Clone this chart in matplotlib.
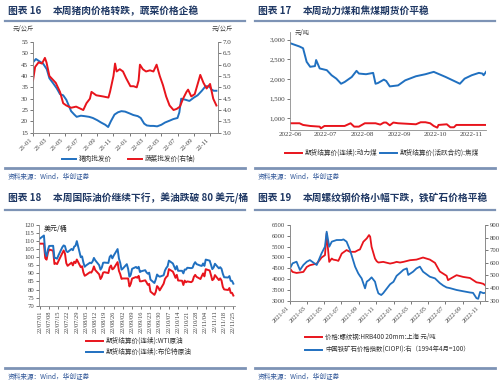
# Four small weekly price panels (pork/veg, coal, crude oil, rebar/iron ore)
import matplotlib
matplotlib.use('Agg')
import matplotlib.pyplot as plt
import matplotlib.dates as mdates
from matplotlib.lines import Line2D
from matplotlib.ticker import MultipleLocator, FuncFormatter
import pandas as pd

plt.rcParams['font.family'] = ['Noto Sans CJK SC', 'DejaVu Sans']
plt.rcParams['axes.unicode_minus'] = False

# ---------------- data ----------------
# panel 16: pork wholesale (left, yuan/kg), vegetable wholesale (right, yuan/kg)
pork_dates = ['2021-01-01', '2021-01-12', '2021-01-25', '2021-02-08', '2021-02-22',
              '2021-03-04', '2021-03-20', '2021-04-01', '2021-04-13', '2021-04-25',
              '2021-05-07', '2021-05-16', '2021-05-25', '2021-06-06', '2021-06-15',
              '2021-07-01', '2021-07-15', '2021-08-01', '2021-08-15', '2021-09-01',
              '2021-09-15', '2021-10-01', '2021-10-12', '2021-10-22', '2021-11-05',
              '2021-11-18', '2021-12-01', '2021-12-15', '2022-01-01', '2022-01-15',
              '2022-02-01', '2022-02-12', '2022-02-25', '2022-03-07', '2022-03-20',
              '2022-04-01', '2022-04-15', '2022-05-01', '2022-05-15', '2022-06-01',
              '2022-06-15', '2022-07-01', '2022-07-08', '2022-07-15', '2022-08-01',
              '2022-08-15', '2022-09-01', '2022-09-15', '2022-10-01', '2022-10-15',
              '2022-10-28', '2022-11-07', '2022-11-15', '2022-11-25']
pork_price = [46, 47.5, 46.5, 45.5, 43, 39, 36.5, 34.5, 32, 31.5,
              29.5, 27, 24.5, 23, 22, 22.5, 22.3, 22, 21.5, 20.5,
              19.5, 18.5, 17.5, 20, 23, 24, 24.5, 24.3, 23.5, 22.8,
              22.3, 21.5, 19, 18.2, 18, 18, 17.8, 18.5, 19.5, 20.3,
              21, 21.5, 24, 30, 29.5, 29, 30.5, 31.5, 33.5, 35.5,
              35.5, 34, 33.5, 33.5]
veg_dates = ['2021-01-01', '2021-01-09', '2021-01-22', '2021-02-04', '2021-02-15',
             '2021-02-21', '2021-03-04', '2021-03-16', '2021-03-28', '2021-04-13',
             '2021-04-25', '2021-05-07', '2021-05-25', '2021-06-13', '2021-07-10',
             '2021-07-22', '2021-08-04', '2021-08-10', '2021-08-28', '2021-09-22',
             '2021-10-13', '2021-10-19', '2021-11-01', '2021-11-07', '2021-11-13',
             '2021-11-25', '2021-12-07', '2021-12-19', '2022-01-04', '2022-01-16',
             '2022-01-28', '2022-02-04', '2022-02-09', '2022-02-20', '2022-03-04',
             '2022-03-19', '2022-04-01', '2022-04-13', '2022-04-25', '2022-05-07',
             '2022-05-19', '2022-06-01', '2022-06-16', '2022-06-28', '2022-07-10',
             '2022-07-22', '2022-08-04', '2022-08-10', '2022-08-22', '2022-09-04',
             '2022-09-19', '2022-09-25', '2022-10-07', '2022-10-19', '2022-11-01',
             '2022-11-13', '2022-11-25']
veg_price = [5.30, 5.90, 6.10, 6.05, 6.30, 6.10, 5.50, 5.35, 5.20, 4.80,
             4.30, 4.20, 4.10, 4.15, 4.00, 4.30, 4.50, 4.80, 4.65, 4.60,
             4.55, 4.80, 5.50, 6.05, 5.70, 5.80, 5.70, 5.40, 5.05, 5.05,
             5.00, 5.30, 6.00, 5.80, 5.70, 5.75, 5.70, 6.00, 5.50, 5.10,
             4.60, 4.20, 4.00, 4.05, 4.15, 4.50, 4.80, 4.90, 4.60, 4.70,
             5.30, 5.55, 5.20, 4.95, 5.15, 4.50, 4.20]

# panel 17: thermal coal and coking coal futures, yuan/ton
coking_dates = ['2022-06-01', '2022-06-09', '2022-06-12', '2022-06-15', '2022-06-18',
                '2022-06-22', '2022-06-23', '2022-06-26', '2022-07-02', '2022-07-06',
                '2022-07-10', '2022-07-14', '2022-07-17', '2022-07-23', '2022-07-27',
                '2022-07-29', '2022-08-04', '2022-08-10', '2022-08-12', '2022-08-14',
                '2022-08-19', '2022-08-21', '2022-08-24', '2022-08-31', '2022-09-06',
                '2022-09-15', '2022-09-23', '2022-09-30', '2022-10-10', '2022-10-19',
                '2022-10-22', '2022-10-26', '2022-11-01', '2022-11-07', '2022-11-10',
                '2022-11-11', '2022-11-13']
coking_price = [2916, 2830, 2786, 2440, 2312, 2330, 2485, 2270, 2226, 2097,
                2010, 1880, 1925, 2053, 2209, 2140, 2123, 2157, 1880, 1898,
                1985, 1950, 1812, 1838, 1967, 2071, 2123, 2183, 2053, 1924,
                1880, 2010, 2097, 2157, 2140, 2097, 2183]
thermal_dates = ['2022-06-01', '2022-06-09', '2022-06-12', '2022-06-18', '2022-06-26',
                 '2022-06-27', '2022-06-30', '2022-07-17', '2022-07-22', '2022-07-25',
                 '2022-07-29', '2022-08-03', '2022-08-12', '2022-08-16', '2022-08-19',
                 '2022-08-21', '2022-08-24', '2022-08-27', '2022-08-31', '2022-09-15',
                 '2022-09-19', '2022-09-23', '2022-09-27', '2022-09-30', '2022-10-03',
                 '2022-10-04', '2022-10-11', '2022-10-14', '2022-10-17', '2022-10-19',
                 '2022-11-13']
thermal_price = [872, 872, 829, 803, 786, 743, 803, 803, 872, 786,
                 786, 872, 872, 838, 890, 890, 820, 890, 872, 846,
                 898, 898, 872, 803, 760, 829, 846, 769, 769, 829,
                 829]

# panel 18: crude oil futures settlement, USD/bbl, trading days 2022-07-01..11-25
oil_dates = pd.bdate_range('2022-07-01', '2022-11-25')
brent = [111.63, 113.50, 102.77, 100.69, 104.65, 107.02, 107.10, 99.49, 99.57, 99.10,
         101.16, 106.27, 107.35, 106.92, 103.86, 103.20, 105.15, 104.40, 106.62, 107.14,
         110.01,
         100.03, 100.54, 96.78, 94.12, 94.92, 96.65, 96.31, 97.40, 99.60, 98.15,
         95.10, 92.34, 93.65, 96.59, 96.72, 96.48, 100.22, 101.22, 99.34, 100.99,
         105.09, 99.31, 96.49,
         92.36, 93.02, 95.74, 92.83, 88.00, 89.15, 92.84, 94.00, 93.17, 94.10,
         90.84, 91.35, 92.00, 90.62, 89.83, 90.46, 86.15, 84.06, 86.27, 89.32,
         88.49, 87.96,
         88.86, 91.80, 93.37, 94.42, 97.92, 96.19, 94.29, 92.45, 94.57, 91.63,
         91.62, 90.03, 92.41, 92.38, 93.50, 93.26, 93.52, 95.69, 96.96, 95.77,
         94.83,
         94.65, 96.16, 94.67, 98.57, 97.92, 95.36, 92.65, 93.67, 95.99, 93.14,
         93.86, 92.86, 89.78, 87.62, 87.45, 88.36, 85.41, 85.34, 83.63]
wti = [108.43, 108.43, 99.50, 98.53, 102.73, 104.79, 104.09, 95.84, 96.30, 95.78,
       97.59, 102.60, 104.22, 102.26, 96.35, 94.70, 96.70, 94.98, 97.26, 96.42,
       98.62,
       93.89, 94.42, 90.66, 88.54, 89.01, 90.76, 90.50, 91.93, 94.34, 92.09,
       89.41, 86.53, 87.91, 90.50, 90.77, 90.23, 93.74, 94.89, 92.52, 93.06,
       97.01, 91.64, 89.55,
       86.61, 86.87, 86.87, 86.88, 81.94, 83.54, 86.79, 87.78, 87.31, 88.48,
       85.10, 85.11, 85.73, 84.45, 82.94, 83.49, 78.74, 76.71, 78.50, 82.15,
       81.23, 79.49,
       83.63, 86.52, 87.76, 88.45, 92.64, 91.13, 89.35, 87.27, 89.11, 85.61,
       85.46, 82.82, 85.55, 84.51, 85.05, 84.58, 85.32, 87.91, 89.08, 87.90,
       86.53,
       88.37, 90.00, 88.17, 92.61, 91.79, 88.91, 85.83, 86.47, 88.96, 85.87,
       86.92, 85.59, 81.64, 80.08, 79.73, 80.95, 77.94, 77.94, 76.28]

# panel 19: rebar price (left, yuan/ton) and CIOPI iron ore index (right)
rebar_dates = ['2021-01-01', '2021-01-10', '2021-01-24', '2021-02-17', '2021-03-01',
               '2021-03-12', '2021-04-05', '2021-04-15', '2021-04-22', '2021-05-04',
               '2021-05-10', '2021-05-14', '2021-05-19', '2021-05-28', '2021-06-02',
               '2021-06-14', '2021-06-20', '2021-07-02', '2021-07-19', '2021-07-31',
               '2021-08-18', '2021-08-29', '2021-09-04', '2021-09-16', '2021-09-28',
               '2021-10-06', '2021-10-10', '2021-10-15', '2021-10-27', '2021-11-02',
               '2021-11-08', '2021-11-25', '2021-12-19', '2021-12-31', '2022-01-11',
               '2022-01-23', '2022-02-04', '2022-02-27', '2022-03-22', '2022-04-14',
               '2022-05-08', '2022-05-26', '2022-06-12', '2022-06-24', '2022-07-06',
               '2022-07-11', '2022-07-17', '2022-08-10', '2022-09-02', '2022-09-26',
               '2022-10-19', '2022-11-01', '2022-11-12', '2022-11-18']
rebar_price = [4485, 4330, 4283, 4330, 4560, 4640, 4717, 4872, 4996, 5105,
               6112, 5490, 4795, 4950, 4900, 4870, 4840, 5180, 5340, 5260,
               5260, 5340, 5370, 5725, 5880, 6035, 5960, 5490, 4950, 4825,
               4765, 4795, 4717, 4750, 4795, 4765, 4795, 4872, 4900, 4996,
               4900, 4750, 4350, 4250, 4150, 3950, 4000, 4180, 4100, 4050,
               3850, 3820, 3780, 3720]
ore_dates = ['2021-01-01', '2021-01-10', '2021-01-24', '2021-02-05', '2021-02-17',
             '2021-03-01', '2021-03-12', '2021-04-05', '2021-04-22', '2021-05-04',
             '2021-05-10', '2021-05-19', '2021-05-28', '2021-06-14', '2021-07-02',
             '2021-07-08', '2021-07-19', '2021-07-31', '2021-08-18', '2021-08-29',
             '2021-09-04', '2021-09-10', '2021-09-22', '2021-09-28', '2021-10-06',
             '2021-10-15', '2021-10-27', '2021-11-02', '2021-11-08', '2021-11-18',
             '2021-11-25', '2021-12-19', '2021-12-31', '2022-01-11', '2022-01-23',
             '2022-02-04', '2022-02-16', '2022-02-21', '2022-03-10', '2022-03-22',
             '2022-04-03', '2022-04-14', '2022-05-08', '2022-05-26', '2022-06-12',
             '2022-06-24', '2022-07-06', '2022-07-17', '2022-08-10', '2022-09-02',
             '2022-09-26', '2022-10-07', '2022-10-19', '2022-10-25', '2022-11-01',
             '2022-11-12', '2022-11-18']
ore_index = [556, 596, 609, 543, 583, 609, 622, 583, 675, 728,
             847, 728, 768, 781, 781, 786, 768, 702, 570, 517,
             496, 477, 398, 451, 464, 485, 451, 398, 358, 345,
             360, 430, 450, 497, 520, 545, 556, 504, 530, 556,
             570, 530, 490, 477, 440, 420, 405, 400, 385, 375,
             365, 362, 320, 315, 370, 360, 362]

# ---------------- layout helpers (pixel coordinates of a 500x388 page) ----------------
W, H = 500, 388
fig = plt.figure(figsize=(5, 3.88), dpi=100)

TITLE_C = '#1F3864'
SRC_C = '#2F5597'
RULE_C = '#7D93B5'
TICK_C = '#404040'
SPINE_C = '#8C8C8C'
RED = '#E8141C'
BLUE = '#2070C0'
SERIF = 'Liberation Serif'


def fx(x):
    return x / W


def fy(y):
    return 1 - y / H


def box(x0, y0, x1, y1):
    return fig.add_axes([fx(x0), fy(y1), (x1 - x0) / W, (y1 - y0) / H])


def hline(x0, x1, y, color, lw):
    fig.add_artist(Line2D([fx(x0), fx(x1)], [fy(y), fy(y)], color=color, lw=lw,
                          transform=fig.transFigure))


def header(x, y, num, text, rule_y, src_y):
    fig.text(fx(x + 3), fy(y), '图表 ' + num, fontsize=7, fontweight='bold',
             color=TITLE_C, va='center')
    fig.text(fx(x + 48), fy(y), text, fontsize=7, fontweight='bold',
             color=TITLE_C, va='center')
    hline(x, x + 240, rule_y, RULE_C, 1.6)
    hline(x, x + 240, src_y, RULE_C, 2.0)
    fig.text(fx(x + 3), fy(src_y + 9), '资料来源：Wind，华创证券', fontsize=4.8,
             color=SRC_C, va='center', style='italic')


def legend_item(x, y, color, label, size=4.8, length=17):
    hline(x, x + length, y, color, 1.4)
    fig.text(fx(x + length + 3), fy(y), label, fontsize=size, va='center',
             color='#333333')


def style_axes(ax, spines=('left', 'bottom'), size=5):
    for s in ('left', 'right', 'top', 'bottom'):
        ax.spines[s].set_visible(s in spines)
        ax.spines[s].set_color(SPINE_C)
        ax.spines[s].set_linewidth(0.6)
    ax.tick_params(labelsize=size, colors=TICK_C, length=2, width=0.5, pad=1.5)
    for lab in ax.get_xticklabels() + ax.get_yticklabels():
        lab.set_fontfamily(SERIF)
    ax.patch.set_alpha(0)


def dt(lst):
    return pd.to_datetime(lst)


# ---------------- panel 16 ----------------
header(5, 11, '16', '本周猪肉价格转跌，蔬菜价格企稳', 21, 168)
ax = box(33, 42, 218, 132.7)
ax.plot(dt(pork_dates), pork_price, color=BLUE, lw=1.4)
ax.set_ylim(15, 55)
ax.yaxis.set_major_locator(MultipleLocator(5))
ax.set_xlim(pd.Timestamp('2021-01-01'), pd.Timestamp('2022-12-01'))
ax.xaxis.set_major_locator(mdates.MonthLocator(bymonth=[1, 3, 5, 7, 9, 11]))
ax.xaxis.set_major_formatter(mdates.DateFormatter('%y-%m'))
ax2 = ax.twinx()
ax2.plot(dt(veg_dates), veg_price, color=RED, lw=1.4)
ax2.set_ylim(3.0, 7.0)
ax2.yaxis.set_major_locator(MultipleLocator(0.5))
ax2.yaxis.set_major_formatter(FuncFormatter(lambda v, p: f'{v:.1f}'))
style_axes(ax, ('left', 'bottom', 'right'))
style_axes(ax2, ('left', 'bottom', 'right'))
for lab in ax.get_xticklabels():
    lab.set_rotation(45)
    lab.set_ha('right')
    lab.set_fontsize(4.8)
fig.text(fx(13), fy(29), '元/公斤', fontsize=4.5, color=TICK_C, va='center')
fig.text(fx(212), fy(29), '元/公斤', fontsize=4.5, color=TICK_C, va='center')
legend_item(62, 158.7, BLUE, '猪肉批发价', length=14)
legend_item(128, 158.7, RED, '蔬菜批发价(右轴)', length=14)

# ---------------- panel 17 ----------------
header(255, 11, '17', '本周动力煤和焦煤期货价平稳', 21, 168)
ax = box(290, 32, 486, 130)
ax.plot(dt(thermal_dates), thermal_price, color=RED, lw=1.4)
ax.plot(dt(coking_dates), coking_price, color=BLUE, lw=1.4)
ax.set_ylim(700, 3200)
ax.yaxis.set_major_locator(MultipleLocator(500))
ax.yaxis.set_major_formatter(FuncFormatter(lambda v, p: f'{int(v):,}'))
ax.set_xlim(pd.Timestamp('2022-06-01'), pd.Timestamp('2022-11-13'))
ax.xaxis.set_major_locator(mdates.MonthLocator())
ax.xaxis.set_major_formatter(mdates.DateFormatter('%Y-%m'))
style_axes(ax, ('left', 'bottom'))
ax.tick_params(axis='x', length=0)
fig.text(fx(295), fy(33), '元/吨', fontsize=4.5, color=TICK_C, va='center')
legend_item(285, 153, RED, '期货结算价(连续):动力煤')
legend_item(380, 153, BLUE, '期货结算价(活跃合约):焦煤')

# ---------------- panel 18 ----------------
header(5, 198, '18', '本周国际油价继续下行，美油跌破 80 美元/桶', 210, 368)
ax = box(39, 225, 235, 305.7)
ax.plot(oil_dates, wti, color=RED, lw=1.4)
ax.plot(oil_dates, brent, color=BLUE, lw=1.4)
ax.set_ylim(70, 120)
ax.yaxis.set_major_locator(MultipleLocator(5))
ax.set_xlim(pd.Timestamp('2022-06-30 06:00'), pd.Timestamp('2022-11-26 06:00'))
ax.set_xticks(pd.date_range('2022-07-01', '2022-11-25', freq='7D'))
ax.xaxis.set_major_formatter(mdates.DateFormatter('%y/%m/%d'))
style_axes(ax, ('left', 'bottom'), size=4.8)
for lab in ax.get_xticklabels():
    lab.set_rotation(90)
    lab.set_fontsize(4.6)
fig.text(fx(44), fy(229), '美元/桶', fontsize=5, color='#222222', va='center')
legend_item(86, 340.7, RED, '期货结算价(连续):WTI原油')
legend_item(86, 351.7, BLUE, '期货结算价(连续):布伦特原油')

# ---------------- panel 19 ----------------
header(255, 198, '19', '本周螺纹钢价格小幅下跌，铁矿石价格平稳', 210, 368)
ax = box(290, 225, 485, 300.7)
ax.plot(dt(rebar_dates), rebar_price, color=RED, lw=1.3)
ax.set_ylim(3000, 6500)
ax.yaxis.set_major_locator(MultipleLocator(500))
ax.set_xlim(pd.Timestamp('2021-01-01'), pd.Timestamp('2022-11-18'))
ax.xaxis.set_major_locator(mdates.MonthLocator(bymonth=[1, 3, 5, 7, 9, 11]))
ax.xaxis.set_major_formatter(mdates.DateFormatter('%Y-%m'))
ax2 = ax.twinx()
ax2.plot(dt(ore_dates), ore_index, color=BLUE, lw=1.3)
ax2.set_ylim(300, 900)
ax2.yaxis.set_major_locator(MultipleLocator(100))
style_axes(ax, ('left', 'bottom', 'right'), size=4.8)
style_axes(ax2, ('left', 'bottom', 'right'), size=4.8)
for lab in ax.get_xticklabels():
    lab.set_rotation(45)
    lab.set_ha('right')
    lab.set_fontsize(4.5)
legend_item(305, 337, RED, '价格:螺纹钢:HRB400 20mm:上海 元/吨', size=4.6)
legend_item(305, 350, BLUE, '中国铁矿石价格指数(CIOPI):右（1994年4月=100）', size=4.6)

fig.savefig('out.png', dpi=100)
